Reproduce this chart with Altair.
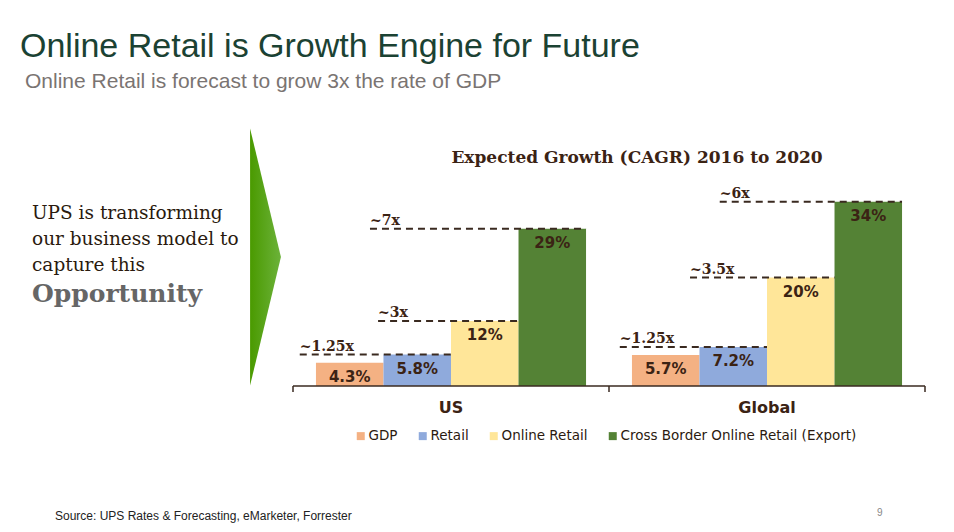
import altair as alt
import pandas as pd

# ---------------- data ----------------
groups = ["US", "Global"]
series = ["GDP", "Retail", "Online Retail", "Cross Border Online Retail  (Export)"]
us_values = [4.3, 5.8, 12, 29]
global_values = [5.7, 7.2, 20, 34]
us_labels = ["4.3%", "5.8%", "12%", "29%"]
global_labels = ["5.7%", "7.2%", "20%", "34%"]
us_multiples = ["~1.25x", "~3x", "~7x"]          # Retail, Online, Cross Border vs GDP
global_multiples = ["~1.25x", "~3.5x", "~6x"]
colors = ["#F4B183", "#8FAADC", "#FFE699", "#548235"]

# ---------------- layout constants ----------------
PAD = 0.34                 # group padding, in bar widths
G = 4 + 2 * PAD            # group width, in bar widths
us_dash_start = [0.10, 1.26, 1.14]      # dashed line start inside group (bar widths)
global_dash_start = [0.16, 1.20, 1.64]

FONT_SANS = "Liberation Sans"
DARK = "#3B2314"

bar_rows, dash_rows = [], []
for gi, (g, vals, labs, mults, starts) in enumerate([
        ("US", us_values, us_labels, us_multiples, us_dash_start),
        ("Global", global_values, global_labels, global_multiples, global_dash_start)]):
    for i, (s, v, lab) in enumerate(zip(series, vals, labs)):
        x0 = gi * G + PAD + i
        bar_rows.append({"group": g, "series": s, "value": v, "label": lab,
                         "x0": x0, "x1": x0 + 1, "xm": x0 + 0.5, "zero": 0})
    for k, m in enumerate(mults):
        bar_i = k + 1
        dash_rows.append({"group": g, "mult": m, "value": vals[bar_i],
                          "xs": gi * G + starts[k], "xe": gi * G + PAD + bar_i + 1})

bars_df = pd.DataFrame(bar_rows)
dash_df = pd.DataFrame(dash_rows)
group_df = pd.DataFrame({"group": groups, "xc": [G / 2, G * 1.5]})
tick_df = pd.DataFrame({"x": [0, G, 2 * G], "zero": [0, 0, 0]})
axis_df = pd.DataFrame({"x": [0], "x2": [2 * G], "zero": [0]})

xs = alt.Scale(domain=[0, 2 * G], range=[285, 917], nice=False, zero=False)
ys = alt.Scale(domain=[0, 40], range=[378, 378 - 40 * 5.42], nice=False)

bars = alt.Chart(bars_df).mark_rect().encode(
    x=alt.X("x0:Q", scale=xs, axis=None),
    x2="x1:Q",
    y=alt.Y("value:Q", scale=ys, axis=None),
    y2="zero:Q",
    color=alt.Color("series:N",
                    scale=alt.Scale(domain=series, range=colors),
                    sort=series,
                    legend=alt.Legend(orient="none", legendX=346, legendY=421,
                                      direction="horizontal", title=None,
                                      symbolType="square", symbolSize=64,
                                      symbolStrokeWidth=0, symbolOpacity=1,
                                      labelFont="DejaVu Sans", labelFontSize=13.5,
                                      labelColor="#2B1A10", labelOffset=1,
                                      columnPadding=18, padding=0, labelLimit=400)),
)

bar_text = alt.Chart(bars_df).mark_text(
    font="DejaVu Sans", fontWeight="bold", fontSize=15, color=DARK,
    baseline="middle", dy=14).encode(
    x=alt.X("xm:Q", scale=xs), y=alt.Y("value:Q", scale=ys), text="label:N")

dashes = alt.Chart(dash_df).mark_rule(
    strokeDash=[7, 5], strokeWidth=2, color="#3A2A20").encode(
    x=alt.X("xs:Q", scale=xs), x2="xe:Q", y=alt.Y("value:Q", scale=ys))

dash_text = alt.Chart(dash_df).mark_text(
    font="DejaVu Serif", fontWeight="bold", fontSize=14, color=DARK,
    align="left", baseline="middle", dy=-8).encode(
    x=alt.X("xs:Q", scale=xs), y=alt.Y("value:Q", scale=ys), text="mult:N")

axis_line = alt.Chart(axis_df).mark_rule(strokeWidth=1.5, color="#3A2A20").encode(
    x=alt.X("x:Q", scale=xs), x2="x2:Q", y=alt.Y("zero:Q", scale=ys))

ticks = alt.Chart(tick_df).mark_rule(strokeWidth=1.5, color="#3A2A20").encode(
    x=alt.X("x:Q", scale=xs), y=alt.Y("zero:Q", scale=ys), y2=alt.value(384))

group_text = alt.Chart(group_df).mark_text(
    font="DejaVu Sans", fontWeight="bold", fontSize=16, color=DARK,
    baseline="middle").encode(
    x=alt.X("xc:Q", scale=xs), y=alt.value(400), text="group:N")

one = pd.DataFrame({"k": [0]})


def label(text, x, y, **kw):
    return alt.Chart(one).mark_text(text=text, align="left", baseline="alphabetic", **kw).encode(
        x=alt.value(x), y=alt.value(y))


title = label("Online Retail is Growth Engine for Future", 12, 49,
              font=FONT_SANS, fontSize=34, color="#1B4233")
subtitle = label("Online Retail is forecast to grow 3x the rate of GDP", 17, 80,
                 font=FONT_SANS, fontSize=21, color="#7A7472")
chart_title = alt.Chart(one).mark_text(
    text="Expected Growth (CAGR) 2016 to 2020", font="DejaVu Serif", fontWeight="bold",
    fontSize=17, color=DARK, align="center", baseline="middle").encode(
    x=alt.value(629), y=alt.value(150))
left_text = label(["UPS is  transforming", "our business model to", "capture this"], 24, 211,
                  font="DejaVu Serif", fontSize=18.5, lineHeight=26, color="#2A1A0E")
opportunity = label("Opportunity", 24, 294, font="DejaVu Serif", fontWeight="bold",
                    fontSize=25, color="#666666")
source = label("Source: UPS Rates & Forecasting, eMarketer, Forrester", 47, 512,
               font=FONT_SANS, fontSize=12, color="#222222")
page_no = label("9", 869, 508, font=FONT_SANS, fontSize=10, color="#888888")

arrow = alt.Chart(one).mark_point(
    shape="M -0.12 -1 L 0.12 0 L -0.12 1 Z", size=257 ** 2, filled=True, opacity=1,
    strokeWidth=0,
    fill=alt.Gradient(gradient="linear",
                      stops=[alt.GradientStop(color="#4A9A00", offset=0),
                             alt.GradientStop(color="#6CB23A", offset=1)],
                      x1=0, x2=1, y1=0, y2=0)).encode(
    x=alt.value(257.5), y=alt.value(249))

chart = alt.layer(
    arrow, bars, bar_text, dashes, dash_text, axis_line, ticks, group_text,
    title, subtitle, chart_title, left_text, opportunity, source, page_no
).properties(
    width=938, height=516,
    autosize=alt.AutoSizeParams(type="none"), padding=0,
).configure_view(stroke=None)

chart.save("out.html", embed_options={"renderer": "svg", "actions": False})
